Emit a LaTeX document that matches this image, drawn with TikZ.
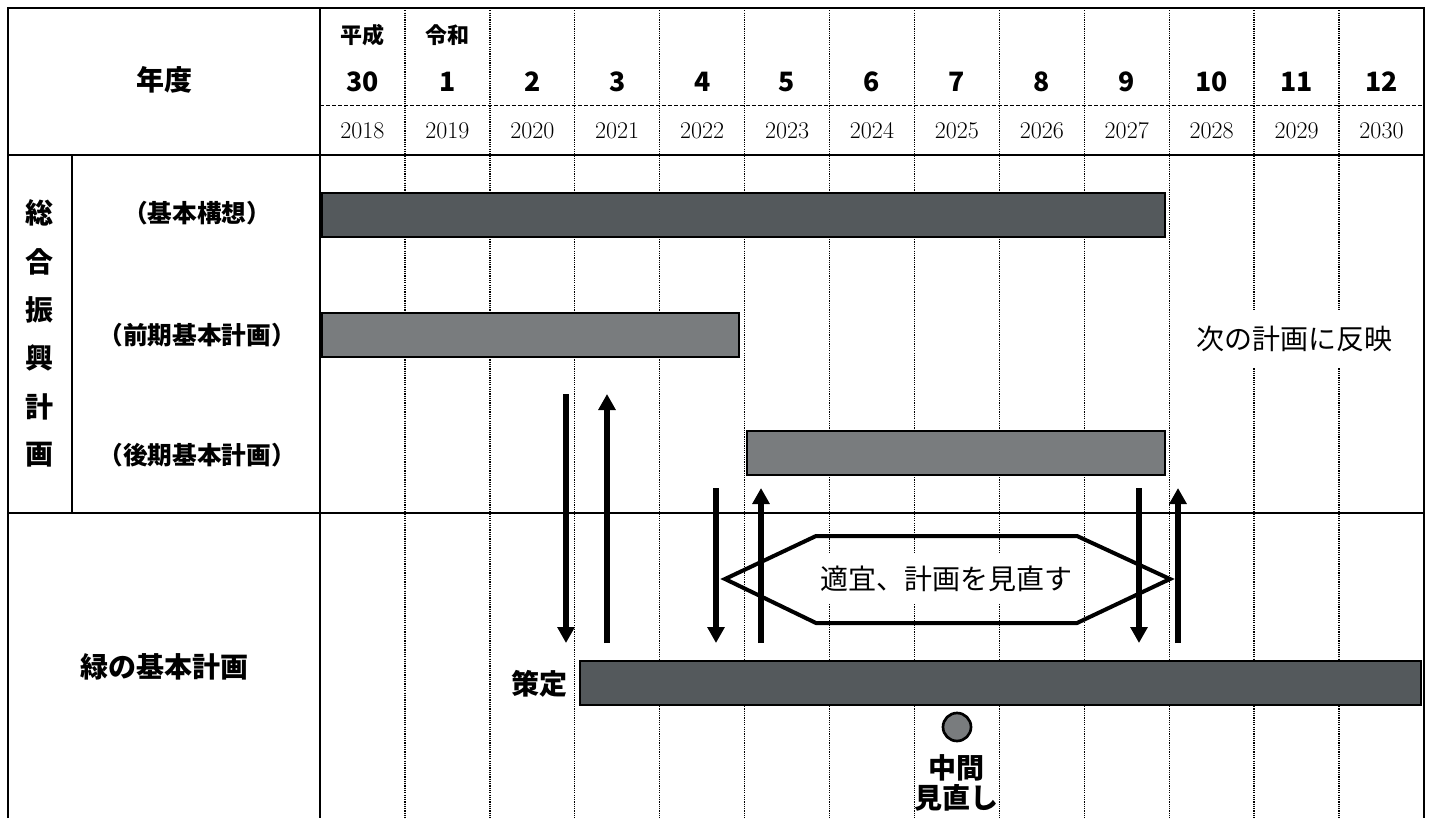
\documentclass[tikz,border=0pt]{standalone}
\usepackage{fontspec}
\newfontfamily\jp{Noto Sans CJK JP}
\usetikzlibrary{arrows.meta}
\definecolor{darkbar}{HTML}{54595C}
\definecolor{midbar}{HTML}{797C7E}

\begin{document}
\begin{tikzpicture}[x=0.75pt, y=-0.75pt,
  lbl/.style={font=\jp\bfseries\fontsize{21}{23}\selectfont, inner sep=1pt},
  sublbl/.style={font=\jp\bfseries\fontsize{18.5}{22}\selectfont, inner sep=1pt},
  note/.style={font=\jp\fontsize{21}{25}\selectfont, fill=white, inner xsep=3pt},
  yrlbl/.style={font=\fontsize{18}{21}\selectfont, inner sep=1pt},
  rule/.style={line width=1.5pt},
  dotline/.style={line width=1pt, dash pattern=on 0.9pt off 0.8pt},
  bar/.style={draw=black, line width=2pt, fill=#1},
  arr/.style={line width=4.2pt, -{Triangle[length=12pt, width=12.5pt]}}]
\useasboundingbox (0,0) rectangle (1432,818);
% table
\foreach \k in {1,...,12}{\draw[dotline] (320+84.92*\k,8) -- (320+84.92*\k,818);}
\draw[line width=0.75pt, dash pattern=on 3pt off 1.5pt] (320,105) -- (1424,105);
\draw[rule] (8,818) -- (8,8) -- (1424,8) -- (1424,818);
\draw[rule] (320,8) -- (320,818);
\draw[rule] (8,155) -- (1424,155);
\draw[rule] (8,513) -- (1424,513);
\draw[rule] (72,155) -- (72,513);
% header
\node[lbl] (nendo) at (164,80) {年度};
\node[lbl, font=\jp\bfseries\fontsize{16.5}{19}\selectfont] (era0) at (362.5,35) {平成};
\node[lbl, font=\jp\bfseries\fontsize{16.5}{19}\selectfont] (era1) at (447.4,35) {令和};
\foreach \n [count=\i from 0] in {30,1,2,3,4,5,6,7,8,9,10,11,12}{
  \pgfmathtruncatemacro\yy{2018+\i}
  \node[lbl, font=\jp\bfseries\fontsize{20}{22}\selectfont] (num\i) at (362.46+84.92*\i,82) {\n};
  \node[yrlbl] (yr\i) at (362.46+84.92*\i,131) {\yy};
}
% row labels
\foreach \c [count=\i from 0] in {総,合,振,興,計,画}{\node[lbl] (sogo\i) at (40,213+48.4*\i) {\c};}
\node[sublbl] (kihon) at (197,213) {（基本構想）};
\node[sublbl] (zenki) at (197,335) {（前期基本計画）};
\node[sublbl] (kouki) at (197,455) {（後期基本計画）};
\node[lbl] (midori) at (164,667) {緑の基本計画};
% bars
\path[bar=darkbar] (322,193) rectangle (1165,237);
\path[bar=midbar] (322,313) rectangle (739,357);
\path[bar=midbar] (747,431) rectangle (1165,475);
\path[bar=darkbar] (580,661) rectangle (1421,705);
\node[lbl] (sakutei) at (539,684) {策定};
\node[circle, draw, line width=2pt, fill=midbar, minimum size=21pt, inner sep=0pt] (chukan) at (957,727) {};
\node[lbl, align=center] (minaoshi) at (956,783) {中間\\見直し};
% review
\draw[line width=3pt, line join=miter] (725,579) -- (816,536) -- (1077,536) -- (1170,579) -- (1077,623) -- (816,623) -- cycle;
\node[note, inner ysep=9pt] (tekigi) at (946,579) {適宜、計画を見直す};
\node[note, inner ysep=12pt] (tsugi) at (1294,339) {次の計画に反映};
\foreach \xa/\ya/\yb [count=\i] in {566/394/643, 607/643/394, 716/488/643, 761/643/488, 1139/488/643, 1178/643/488}{
  \coordinate (s\i) at (\xa,\ya);
  \coordinate (e\i) at (\xa,\yb);
  \draw[arr] (s\i) -- (e\i);
}
\end{tikzpicture}
\end{document}
